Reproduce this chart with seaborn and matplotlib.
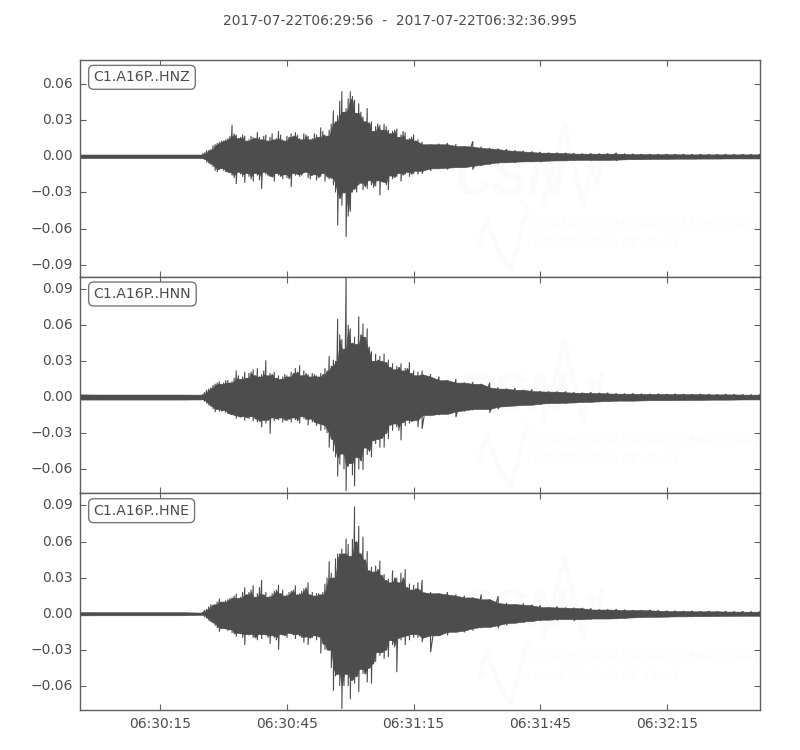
import numpy as np
import pandas as pd
import matplotlib
matplotlib.use("Agg")
import matplotlib.pyplot as plt
import seaborn as sns

TITLE = "2017-07-22T06:29:56  -  2017-07-22T06:32:36.995"
CHANNELS = ["C1.A16P..HNZ", "C1.A16P..HNN", "C1.A16P..HNE"]
X_TICKS = [19, 49, 79, 109, 139]
X_LABELS = ["06:30:15", "06:30:45", "06:31:15", "06:31:45", "06:32:15"]
Y_TICKS_Z = [-0.09, -0.06, -0.03, 0.0, 0.03, 0.06]
Y_TICKS_NE = [-0.06, -0.03, 0.0, 0.03, 0.06, 0.09]

# seconds after 06:29:56
TIME_QUIET = [0, 4, 8, 12, 16, 20, 24, 28]
TIME_STRONG = list(range(29, 81))
TIME_HALF = [29.5 + k for k in range(51)]
TIME_CODA = list(range(81, 162, 2))

# HNZ peak readings
Z_QUIET_UP = [.0016, .0015, .0016, .0015, .0015, .0016, .0015, .0015]
Z_QUIET_LOW = [-.0016, -.0015, -.0015, -.0016, -.0015, -.0015, -.0016, -.0015]
Z_STRONG_UP = [.002, .005, .006, .010, .012, .013, .015, .026, .018, .016, .017, .014, .016, .020, .014, .018,
               .016, .014, .021, .014, .017, .019, .020, .015, .019, .017, .015, .018, .024, .018, .022, .038,
               .034, .054, .040, .054, .047, .044, .033, .040, .029, .025, .026, .027, .022, .021, .023, .018,
               .020, .015, .018, .014]
Z_STRONG_LOW = [-.002, -.005, -.007, -.012, -.011, -.012, -.013, -.016, -.023, -.015, -.022, -.017, -.021, -.016,
                -.027, -.015, -.017, -.021, -.016, -.019, -.018, -.0255, -.016, -.017, -.014, -.018, -.016, -.020,
                -.017, -.021, -.019, -.024, -.0575, -.041, -.067, -.046, -.027, -.024, -.028, -.027, -.024, -.025,
                -.0325, -.022, -.028, -.019, -.017, -.021, -.015, -.017, -.0145, -.015]
Z_HALF_UP = [.003, .005, .009, .011, .013, .014, .017, .019, .015, .018,
             .013, .017, .015, .016, .017, .013, .019, .015, .018, .013,
             .016, .017, .018, .014, .018, .014, .019, .016, .021, .017,
             .027, .029, .046, .037, .048, .050, .036, .037, .029, .028,
             .021, .027, .022, .025, .019, .022, .016, .021, .014, .016, .013]
Z_HALF_LOW = [-.003, -.006, -.009, -.013, -.010, -.013, -.014, -.018, -.013, -.017,
              -.014, -.019, -.014, -.020, -.013, -.016, -.017, -.014, -.017, -.015,
              -.019, -.014, -.015, -.016, -.013, -.019, -.015, -.018, -.014, -.017,
              -.018, -.030, -.035, -.030, -.050, -.030, -.030, -.022, -.025, -.020,
              -.026, -.020, -.021, -.024, -.016, -.018, -.014, -.016, -.013, -.015, -.012]
Z_CODA_UP = [.012, .010, .0105, .011, .010, .0085, .0125, .008, .007, .0065, .006, .005, .0045, .004, .0035, .003,
             .003, .0028, .0026, .0022, .0024, .0022, .0024, .0028, .0022, .002, .0018, .0018, .0017, .0018, .0017,
             .0017, .0016, .0017, .0017, .0016, .0017, .0016, .0017, .0016, .0016]
Z_CODA_LOW = [-.0145, -.012, -.010, -.011, -.0095, -.009, -.011, -.008, -.007, -.006, -.005, -.0055, -.0045, -.0042,
              -.0047, -.004, -.0036, -.0034, -.0036, -.003, -.0034, -.0032, -.003, -.0036, -.0028, -.0025, -.0024,
              -.0024, -.0022, -.0024, -.0021, -.002, -.002, -.0021, -.0019, -.002, -.0019, -.0018, -.0019, -.0018, -.0018]

# HNN peak readings
N_QUIET_UP = [.0022, .0022, .0021, .0022, .0022, .0021, .0022, .0022]
N_QUIET_LOW = [-.0022, -.0021, -.0022, -.0022, -.0021, -.0022, -.0021, -.0022]
N_STRONG_UP = [.002, .006, .008, .011, .013, .012, .014, .013, .022, .015, .021, .020, .023, .024, .019, .0305,
               .020, .021, .018, .017, .018, .021, .024, .0264, .022, .019, .020, .018, .020, .024, .034, .031,
               .065, .048, .1, .057, .050, .067, .061, .057, .038, .036, .034, .036, .031, .028, .026, .028,
               .024, .029, .022, .021]
N_STRONG_LOW = [-.002, -.0055, -.008, -.0125, -.012, -.011, -.014, -.015, -.018, -.017, -.0195, -.018, -.020, -.021,
                -.025, -.022, -.0305, -.020, -.019, -.021, -.020, -.021, -.019, -.022, -.018, -.0236, -.021, -.024,
                -.028, -.027, -.042, -.045, -.066, -.047, -.078, -.055, -.074, -.060, -.0605, -.048, -.050, -.039,
                -.042, -.042, -.035, -.028, -.025, -.036, -.024, -.022, -.020, -.025]
N_HALF_UP = [.004, .007, .010, .012, .011, .014, .012, .016, .018, .017,
             .016, .021, .018, .017, .022, .018, .019, .016, .015, .019,
             .017, .020, .021, .018, .020, .017, .019, .017, .019, .022,
             .026, .030, .052, .040, .060, .045, .044, .052, .050, .042,
             .030, .031, .030, .029, .025, .023, .025, .022, .024, .020, .018]
N_HALF_LOW = [-.004, -.007, -.010, -.010, -.012, -.013, -.014, -.015, -.016, -.016,
              -.017, -.016, -.018, -.020, -.019, -.019, -.017, -.018, -.017, -.019,
              -.018, -.017, -.020, -.016, -.019, -.018, -.021, -.022, -.023, -.030,
              -.035, -.050, -.056, -.060, -.058, -.065, -.050, -.053, -.042, -.045,
              -.036, -.035, -.034, -.030, -.023, -.022, -.028, -.021, -.019, -.020, -.019]
N_CODA_UP = [.022, .019, .017, .014, .015, .012, .0125, .011, .012, .008, .007, .0075, .006, .0064, .005, .0047,
             .0045, .0047, .004, .0036, .004, .0034, .0036, .003, .0028, .003, .0028, .0026, .0028, .0025, .0027,
             .0025, .0024, .0026, .0024, .0022, .0024, .0022, .0022, .002, .002]
N_CODA_LOW = [-.0264, -.015, -.015, -.014, -.0167, -.012, -.011, -.010, -.013, -.010, -.008, -.0075, -.007, -.0065,
              -.0064, -.0055, -.005, -.0055, -.0047, -.0045, -.004, -.0042, -.0035, -.0034, -.003, -.0032, -.003,
              -.0028, -.0026, -.0028, -.0026, -.0025, -.0025, -.0024, -.0024, -.0022, -.0023, -.0022, -.0021, -.002, -.002]

# HNE peak readings
E_QUIET_UP = [.0017, .0014, .0013, .0013, .0014, .0013, .0013, .0013]
E_QUIET_LOW = [-.0018, -.0014, -.0013, -.0014, -.0013, -.0014, -.0013, -.0013]
E_STRONG_UP = [.001, .004, .0078, .008, .0125, .010, .012, .0135, .0167, .014, .022, .018, .0236, .017, .028, .018,
               .015, .019, .024, .020, .016, .019, .0236, .017, .021, .026, .018, .017, .016, .025, .0436, .03,
               .05, .054, .0625, .048, .089, .073, .064, .052, .039, .04, .044, .033, .029, .036, .030, .034,
               .037, .025, .024, .026]
E_STRONG_LOW = [-.001, -.004, -.007, -.010, -.015, -.012, -.014, -.016, -.019, -.017, -.026, -.018, -.020, -.022,
                -.021, -.018, -.025, -.02, -.03, -.018, -.02, -.017, -.021, -.019, -.024, -.026, -.02, -.022,
                -.033, -.03, -.03, -.064, -.05, -.079, -.05, -.071, -.058, -.065, -.05, -.057, -.058, -.04, -.035,
                -.0375, -.036, -.026, -.0486, -.022, -.026, -.022, -.02, -.02]
E_HALF_UP = [.003, .006, .0075, .010, .010, .011, .013, .015, .013, .018,
             .016, .020, .014, .022, .016, .014, .017, .020, .017, .015,
             .018, .020, .016, .019, .022, .016, .015, .017, .018, .030,
             .034, .046, .050, .050, .058, .062, .060, .050, .045, .036,
             .035, .037, .032, .028, .026, .030, .026, .030, .022, .020, .021]
E_HALF_LOW = [-.003, -.006, -.008, -.012, -.012, -.013, -.013, -.017, -.016, -.020,
              -.017, -.017, -.020, -.017, -.017, -.020, -.018, -.022, -.017, -.018,
              -.016, -.018, -.017, -.020, -.019, -.020, -.018, -.019, -.025, -.030,
              -.045, -.052, -.060, -.060, -.060, -.055, -.052, -.046, -.050, -.045,
              -.042, -.032, -.032, -.030, -.022, -.028, -.020, -.019, -.018, -.017, -.017]
E_CODA_UP = [.028, .018, .017, .018, .016, .015, .0135, .016, .012, .0147, .009, .008, .0085, .0075, .007, .0055,
             .006, .0052, .005, .0048, .0045, .0035, .0035, .0038, .0033, .003, .003, .0033, .0028, .0025, .0024,
             .0022, .0024, .002, .0022, .002, .002, .0018, .002, .0017, .0017]
E_CODA_LOW = [-.0236, -.032, -.018, -.018, -.015, -.0155, -.014, -.012, -.011, -.012, -.0095, -.0078, -.0075, -.0065,
              -.006, -.005, -.0055, -.0045, -.006, -.0045, -.0048, -.004, -.0042, -.004, -.0038, -.0034, -.003, -.0028,
              -.0026, -.0028, -.0024, -.0022, -.0024, -.0021, -.002, -.002, -.0019, -.0018, -.0018, -.0017, -.0017]

COMPONENTS = [
    (Z_QUIET_UP, Z_QUIET_LOW, Z_STRONG_UP, Z_STRONG_LOW, Z_HALF_UP, Z_HALF_LOW, Z_CODA_UP, Z_CODA_LOW, (-0.1, 0.08), Y_TICKS_Z),
    (N_QUIET_UP, N_QUIET_LOW, N_STRONG_UP, N_STRONG_LOW, N_HALF_UP, N_HALF_LOW, N_CODA_UP, N_CODA_LOW, (-0.08, 0.1), Y_TICKS_NE),
    (E_QUIET_UP, E_QUIET_LOW, E_STRONG_UP, E_STRONG_LOW, E_HALF_UP, E_HALF_LOW, E_CODA_UP, E_CODA_LOW, (-0.08, 0.1), Y_TICKS_NE),
]

INK = "#4d4d4d"
FRAME = "#5f5f5f"
MARK = "#fbfbfb"

# watermark logo outline, as axes fractions
LOGO_TOP_X = [0.68, 0.713, 0.74, 0.752, 0.76, 0.768]
LOGO_TOP_Y = [0.33, 0.70, 0.33, 0.52, 0.43, 0.55]
LOGO_LOW_X = [0.588, 0.598, 0.618, 0.634, 0.658]
LOGO_LOW_Y = [0.16, 0.27, 0.10, 0.03, 0.32]


def trough(values, pick):
    """Outline running through the valleys between the read peaks."""
    v = np.asarray(values)
    stack = np.stack([np.r_[v[0], v[:-1]], v, np.r_[v[1:], v[-1]]])
    return pick(stack, axis=0)


sns.set_theme(style="white")
plt.rcParams["font.family"] = ["DejaVu Sans"]
plt.rcParams["ytick.alignment"] = "center"

fig = plt.figure(figsize=(8, 7.5), dpi=100)
gs = fig.add_gridspec(3, 1, left=0.1, right=0.95, top=0.92, bottom=0.0533, hspace=0)

all_times = np.array(TIME_QUIET + TIME_STRONG + TIME_HALF + TIME_CODA)
order = np.argsort(all_times)
times = all_times[order]
n_quiet = len(TIME_QUIET)

for i, (qu, ql, su, sl, hu, hl, cu, cl, ylim, yticks) in enumerate(COMPONENTS):
    up = np.array(qu + su + hu + cu)[order]
    low = np.array(ql + sl + hl + cl)[order]

    ax = fig.add_subplot(gs[i])
    ax.text(0.551, 0.33, "CSN", transform=ax.transAxes, fontsize=38, color=MARK,
            family="Liberation Sans", style="italic", weight="bold", va="bottom", zorder=0)
    ax.text(0.664, 0.215, "CENTRO SISMOLÓGICO NACIONAL", transform=ax.transAxes, fontsize=9.5, color=MARK,
            family="Liberation Sans", style="italic", va="bottom", zorder=0)
    ax.text(0.658, 0.125, "UNIVERSIDAD DE CHILE", transform=ax.transAxes, fontsize=9.5, color=MARK,
            family="Liberation Sans", style="italic", va="bottom", zorder=0)
    ax.plot(LOGO_TOP_X, LOGO_TOP_Y, transform=ax.transAxes, color=MARK, lw=3, zorder=0)
    ax.plot(LOGO_LOW_X, LOGO_LOW_Y, transform=ax.transAxes, color=MARK, lw=3, zorder=0)

    ax.fill_between(times, trough(low, np.max), trough(up, np.min), color=INK, lw=0.4, zorder=2)

    zig_t = np.repeat(times[n_quiet:], 2)
    zig_v = np.column_stack([up[n_quiet:], low[n_quiet:]]).ravel()
    frame = pd.DataFrame({"t": zig_t, "v": zig_v})
    sns.lineplot(data=frame, x="t", y="v", estimator=None, sort=False, errorbar=None,
                 color=INK, lw=0.8, ax=ax, zorder=3, solid_joinstyle="bevel")

    ax.set_xlim(0, 160.995)
    ax.set_ylim(*ylim)
    ax.set_xlabel("")
    ax.set_ylabel("")
    ax.set_yticks(yticks)
    ax.set_yticklabels([f"{v:.2f}".replace("-", "\u2212") for v in yticks], color=INK, fontsize=10)
    ax.set_xticks(X_TICKS)
    if i == 2:
        ax.set_xticklabels(X_LABELS, color=INK, fontsize=10)
    else:
        ax.set_xticklabels([])
    ax.tick_params(axis="both", which="major", direction="in", top=True, right=True, bottom=True, left=True,
                   length=4, width=0.8, color=FRAME, pad=5)
    for s in ax.spines.values():
        s.set_color(FRAME)
        s.set_linewidth(1.0)
    ax.text(0.02, 0.92, CHANNELS[i], transform=ax.transAxes, fontsize=10.2, color=INK,
            va="center", ha="left", zorder=5,
            bbox=dict(boxstyle="round,pad=0.35", fc="white", ec="#777777", lw=1.0))

fig.text(0.5, 0.9715, TITLE, ha="center", va="center", fontsize=10, color=INK)
fig.savefig("out.png", dpi=100)
